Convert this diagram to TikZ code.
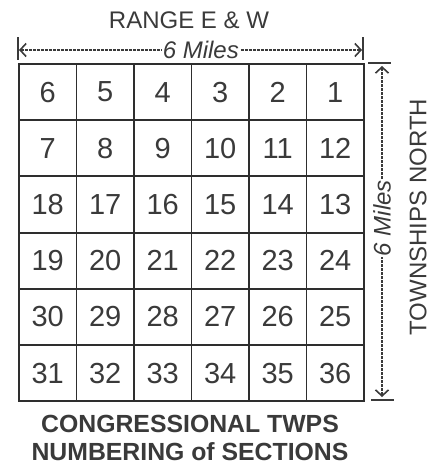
\documentclass[tikz,border=0pt]{standalone}
\usepackage{fontspec}
\setmainfont{Liberation Sans}
\usetikzlibrary{arrows.meta,positioning,calc}
\definecolor{ink}{HTML}{3A3A3A}
\definecolor{gridink}{HTML}{2E2E2E}
\tikzset{
  cell/.style={draw=gridink, line width=1.9pt, minimum width=57.5pt, minimum height=56.2pt,
               inner sep=0pt, anchor=north west, text=ink, font=\fontsize{29}{29}\selectfont},
  dimline/.style={draw=ink, line width=1.3pt, dash pattern=on 3pt off 1pt,
                  {Straight Barb[length=6pt,width=13pt,line width=1.6pt]}-{Straight Barb[length=6pt,width=13pt,line width=1.6pt]}},
  tick/.style={draw=ink, line width=1.3pt},
  dimtext/.style={fill=white, inner sep=1pt, text=ink, font=\fontsize{24}{24}\selectfont\itshape},
  caption/.style={text=ink, font=\fontsize{24}{24}\selectfont},
  bigtitle/.style={text=ink, align=center, font=\fontsize{24.8}{27.5}\selectfont\bfseries}
}

\begin{document}
\begin{tikzpicture}[x=1pt,y=-1pt]
  \useasboundingbox (0,0) rectangle (445,466);

  % sections, numbered back and forth
  \foreach \r in {0,...,5}{
    \foreach \c in {0,...,5}{
      \pgfmathtruncatemacro{\n}{mod(\r,2)==0 ? 6*\r+6-\c : 6*\r+1+\c}
      \node[cell] (s\n) at (18+57.5*\c, 63+56.2*\r) {\n};
    }
  }

  % range across the top
  \node[caption] (range) at (189,20) {RANGE E \& W};
  \coordinate (tl) at (19,50);
  \coordinate (tr) at (362,50);
  \draw[tick] (18,37) -- (18,60);
  \draw[tick] (363,37) -- (363,60);
  \draw[dimline] (tl) -- node[dimtext, pos=0.53] (wmiles) {6 Miles} (tr);

  % townships down the side
  \coordinate (rt) at (382,66);
  \coordinate (rb) at (382,397);
  \draw[tick] (368,63) -- (391,63);
  \draw[tick] (371,400) -- (394,400);
  \draw[dimline] (rb) -- node[dimtext, rotate=90, pos=0.54] (hmiles) {6 Miles} (rt);
  \node[caption, rotate=90] (twps) at (418,217) {TOWNSHIPS NORTH};

  \node[bigtitle] (title) at (190,438) {CONGRESSIONAL TWPS\\NUMBERING of SECTIONS};
\end{tikzpicture}
\end{document}
